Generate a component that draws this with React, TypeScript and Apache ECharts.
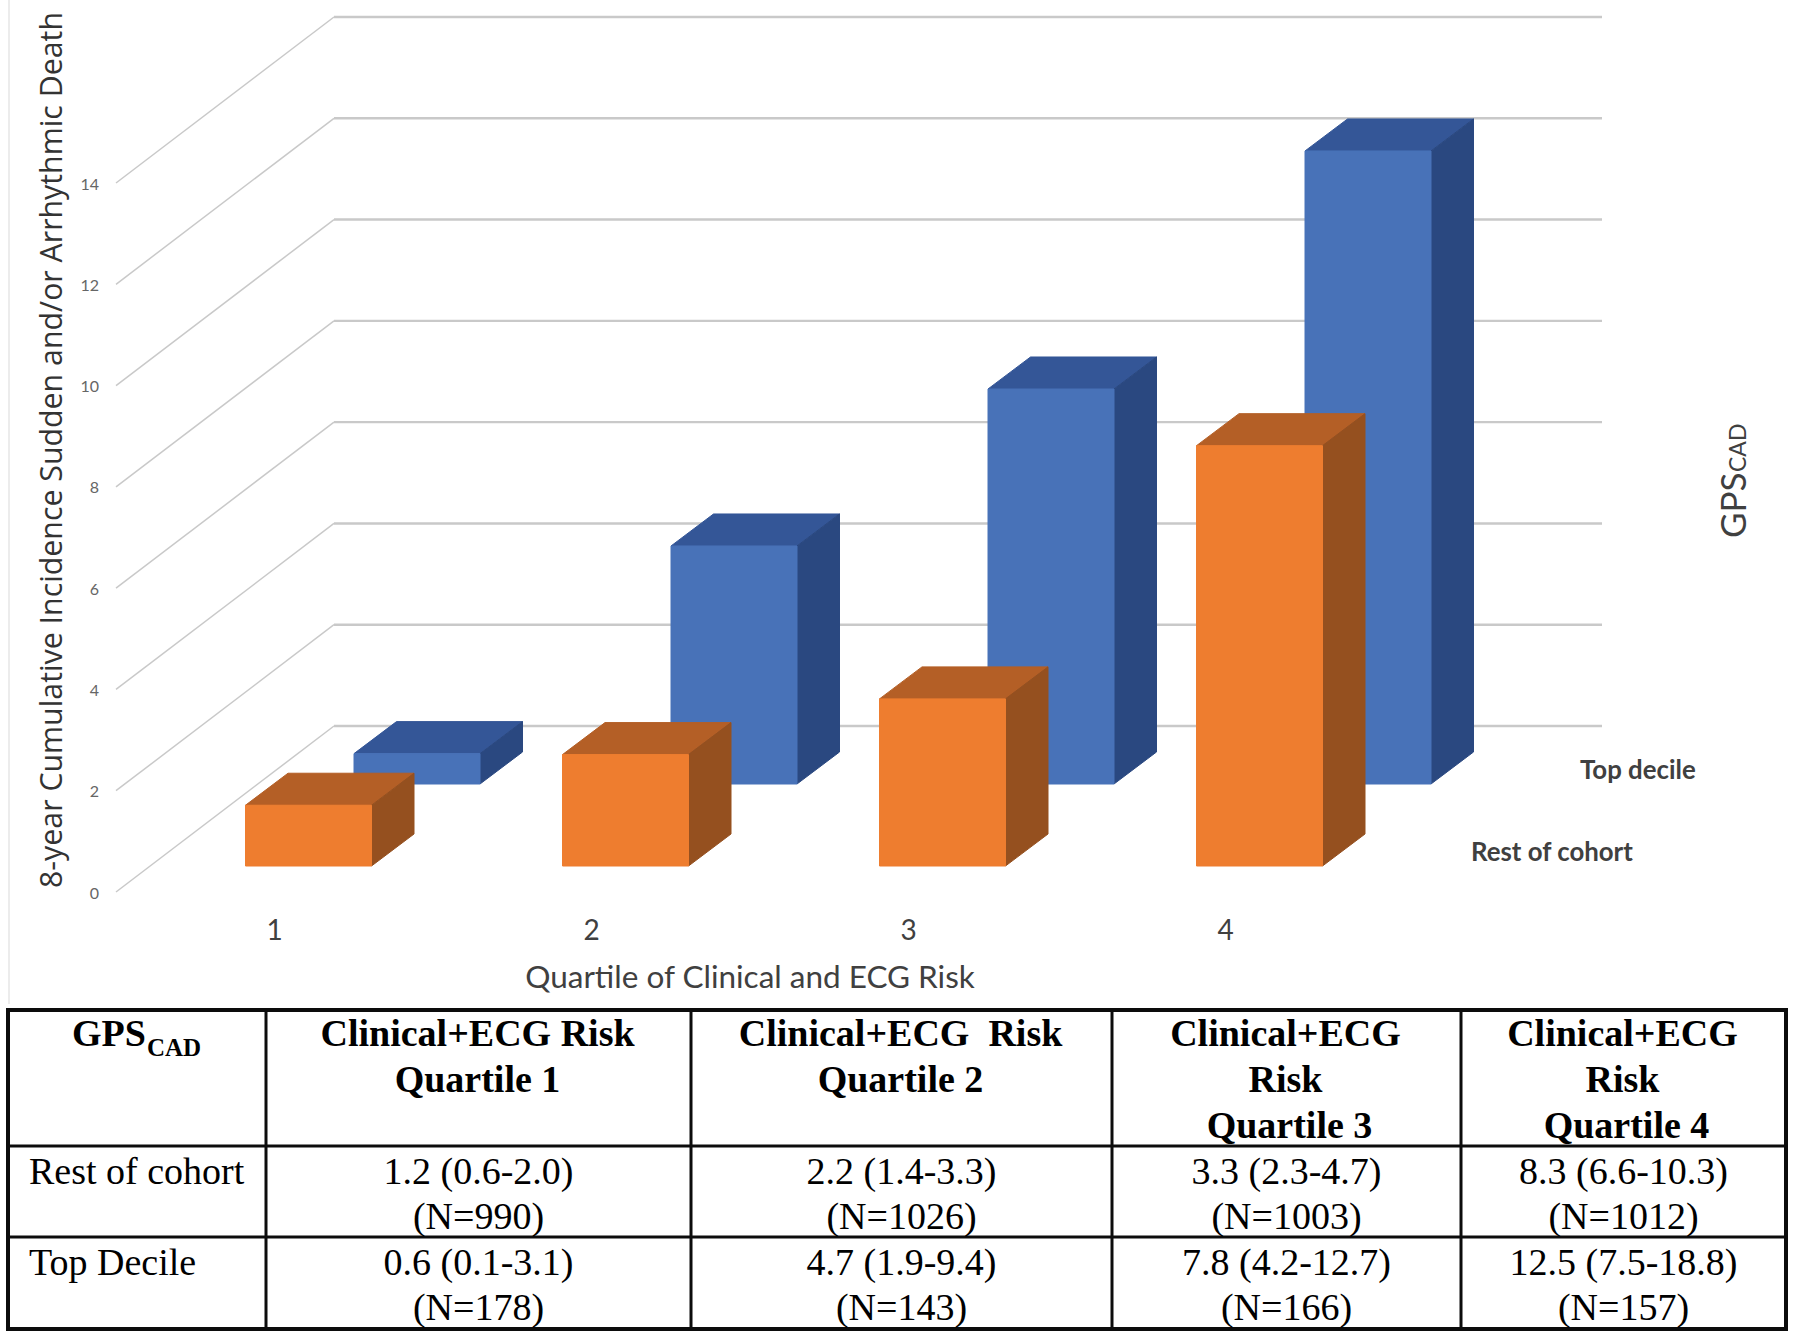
import React, { useEffect, useRef } from "react";
import * as echarts from "echarts";

const categories = ["1", "2", "3", "4"];
const yTicks = [0, 2, 4, 6, 8, 10, 12, 14];
const restOfCohort = [1.2, 2.2, 3.3, 8.3];
const topDecile = [0.6, 4.7, 7.8, 12.5];

const tableHeaders = [
  ["Clinical+ECG Risk", "Quartile 1"],
  ["Clinical+ECG  Risk", "Quartile 2"],
  ["Clinical+ECG", "Risk", "Quartile 3"],
  ["Clinical+ECG", "Risk", "Quartile 4"],
];
const restCells = ["1.2 (0.6-2.0)", "2.2 (1.4-3.3)", "3.3 (2.3-4.7)", "8.3 (6.6-10.3)"];
const restCounts = ["(N=990)", "(N=1026)", "(N=1003)", "(N=1012)"];
const topCells = ["0.6 (0.1-3.1)", "4.7 (1.9-9.4)", "7.8 (4.2-12.7)", "12.5 (7.5-18.8)"];
const topCounts = ["(N=178)", "(N=143)", "(N=166)", "(N=157)"];

const W = 1794;
const H = 1338;
const BAR_W = 126;
const DEPTH_X = 42.5;
const DEPTH_Y = 32;

function barRenderer(offX: number, offY: number, front: string, top: string, side: string) {
  return (_params: any, api: any) => {
    const cat = api.value(0);
    const val = api.value(1);
    const base = api.coord([cat, 0]);
    const head = api.coord([cat, val]);
    const x = base[0] + offX - BAR_W / 2;
    const y0 = base[1] + offY;
    const y1 = head[1] + offY;
    const r = x + BAR_W;
    return {
      type: "group",
      children: [
        {
          type: "polygon",
          shape: { points: [[x, y1], [x + DEPTH_X, y1 - DEPTH_Y], [r + DEPTH_X, y1 - DEPTH_Y], [r, y1]] },
          style: { fill: top, stroke: top, lineWidth: 1 },
        },
        {
          type: "polygon",
          shape: { points: [[r, y1], [r + DEPTH_X, y1 - DEPTH_Y], [r + DEPTH_X, y0 - DEPTH_Y], [r, y0]] },
          style: { fill: side, stroke: side, lineWidth: 1 },
        },
        {
          type: "rect",
          shape: { x, y: y1, width: BAR_W, height: y0 - y1 },
          style: { fill: front, stroke: front, lineWidth: 1 },
        },
      ],
    };
  };
}

function gridRenderer(params: any, api: any) {
  const y = api.coord([0, api.value(1)])[1];
  const x0 = params.coordSys.x;
  return {
    type: "group",
    children: [
      {
        type: "line",
        shape: { x1: x0, y1: y, x2: x0 + 218, y2: y - 166 },
        style: { stroke: "#c9c9c9", lineWidth: 1.5 },
      },
      {
        type: "line",
        shape: { x1: x0 + 218, y1: y - 166, x2: 1602, y2: y - 166 },
        style: { stroke: "#c9c9c9", lineWidth: 2.4 },
      },
    ],
  };
}

function txt(text: string, x: number, y: number, size: number, weight: string, family: string, fill: string, align = "center", rotation = 0) {
  return {
    type: "text",
    x,
    y,
    rotation,
    silent: true,
    style: { text, x: 0, y: 0, fontSize: size, fontWeight: weight, fontFamily: family, fill, textAlign: align, textVerticalAlign: "middle" },
  };
}

function hLine(x1: number, x2: number, y: number, w: number) {
  return { type: "line", shape: { x1, y1: y, x2, y2: y }, style: { stroke: "#0c0c0c", lineWidth: w } };
}
function vLine(x: number, y1: number, y2: number, w: number) {
  return { type: "line", shape: { x1: x, y1, x2: x, y2 }, style: { stroke: "#0c0c0c", lineWidth: w } };
}

function tableGraphic() {
  const serif = '"Liberation Serif"';
  const cols = [8, 266, 691, 1112, 1461, 1786];
  const rows = [1010, 1146, 1237, 1329];
  const els: any[] = [];
  rows.forEach((y, i) => els.push(hLine(cols[0] - 2, cols[5] + 2, y, i === 0 || i === 3 ? 4 : 3)));
  cols.forEach((x, i) => els.push(vLine(x, rows[0], rows[3], i === 0 || i === 5 ? 4 : 3)));
  els.push(txt("GPS", 72, 1033, 38, "bold", serif, "#000", "left"));
  els.push(txt("CAD", 147, 1047, 25, "bold", serif, "#000", "left"));
  els.push(txt("Rest of cohort", 29, 1171, 38, "normal", serif, "#000", "left"));
  els.push(txt("Top Decile", 29, 1262, 38, "normal", serif, "#000", "left"));
  const headerY = [1033, 1079, 1125];
  for (let c = 0; c < 4; c++) {
    const cx = (cols[c + 1] + cols[c + 2]) / 2;
    tableHeaders[c].forEach((line, l) => els.push(txt(line, cx + (l === 2 ? 4 : 0) - 1, headerY[l], 38, "bold", serif, "#000")));
    els.push(txt(restCells[c], cx, 1171, 38, "normal", serif, "#000"));
    els.push(txt(restCounts[c], cx, 1216, 38, "normal", serif, "#000"));
    els.push(txt(topCells[c], cx, 1262, 38, "normal", serif, "#000"));
    els.push(txt(topCounts[c], cx, 1307, 38, "normal", serif, "#000"));
  }
  return els;
}

export default function App() {
  const ref = useRef<HTMLDivElement>(null);
  useEffect(() => {
    document.body.style.margin = "0";
    const chart = echarts.init(ref.current!, undefined, { renderer: "svg" });
    const label = "#404040";
    chart.setOption({
      animation: false,
      backgroundColor: "#ffffff",
      grid: { left: 116, top: 183, width: 1268, height: 709, containLabel: false },
      xAxis: {
        type: "category",
        data: categories,
        axisLine: { show: false },
        axisTick: { show: false },
        splitLine: { show: false },
        axisLabel: { color: label, fontSize: 28, fontFamily: "Lato", margin: 23 },
        name: "Quartile of Clinical and ECG Risk",
        nameLocation: "middle",
        nameGap: 68,
        nameTextStyle: { color: label, fontSize: 31.5, fontFamily: "Lato" },
      },
      yAxis: {
        type: "value",
        min: 0,
        max: 14,
        interval: 2,
        axisLine: { show: false },
        axisTick: { show: false },
        splitLine: { show: false },
        axisLabel: { color: "#666666", fontSize: 16, fontFamily: "Lato", margin: 17 },
      },
      series: [
        {
          type: "custom",
          name: "grid",
          data: yTicks.map((v) => [0, v]),
          encode: { x: 0, y: 1 },
          renderItem: gridRenderer,
          silent: true,
          z: 1,
        },
        {
          type: "custom",
          name: "Top decile",
          data: topDecile.map((v, i) => [i, v]),
          encode: { x: 0, y: 1 },
          renderItem: barRenderer(142.5, -108, "#4872b8", "#345697", "#2a4880"),
          z: 2,
        },
        {
          type: "custom",
          name: "Rest of cohort",
          data: restOfCohort.map((v, i) => [i, v]),
          encode: { x: 0, y: 1 },
          renderItem: barRenderer(34, -26, "#ee7d2f", "#b45f26", "#95501f"),
          z: 3,
        },
      ],
      graphic: {
        elements: [
          { type: "line", shape: { x1: 9, y1: 0, x2: 9, y2: 1004 }, style: { stroke: "#ececec", lineWidth: 2 }, silent: true },
          txt("8-year Cumulative Incidence Sudden and/or Arrhythmic Death", 50, 450, 30.3, "normal", "Open Sans", "#333333", "center", Math.PI / 2),
          txt("Top decile", 1580, 769, 25.8, "bold", "Lato", label, "left"),
          txt("Rest of cohort", 1471, 851, 25.8, "bold", "Lato", label, "left"),
          txt("GPS", 1731.5, 538, 35, "normal", "Lato", label, "left", Math.PI / 2),
          txt("CAD", 1736.5, 472, 23, "normal", "Lato", label, "left", Math.PI / 2),
          ...tableGraphic(),
        ],
      },
    });
    return () => chart.dispose();
  }, []);
  return <div ref={ref} style={{ position: "absolute", left: 0, top: 0, width: W, height: H }} />;
}
